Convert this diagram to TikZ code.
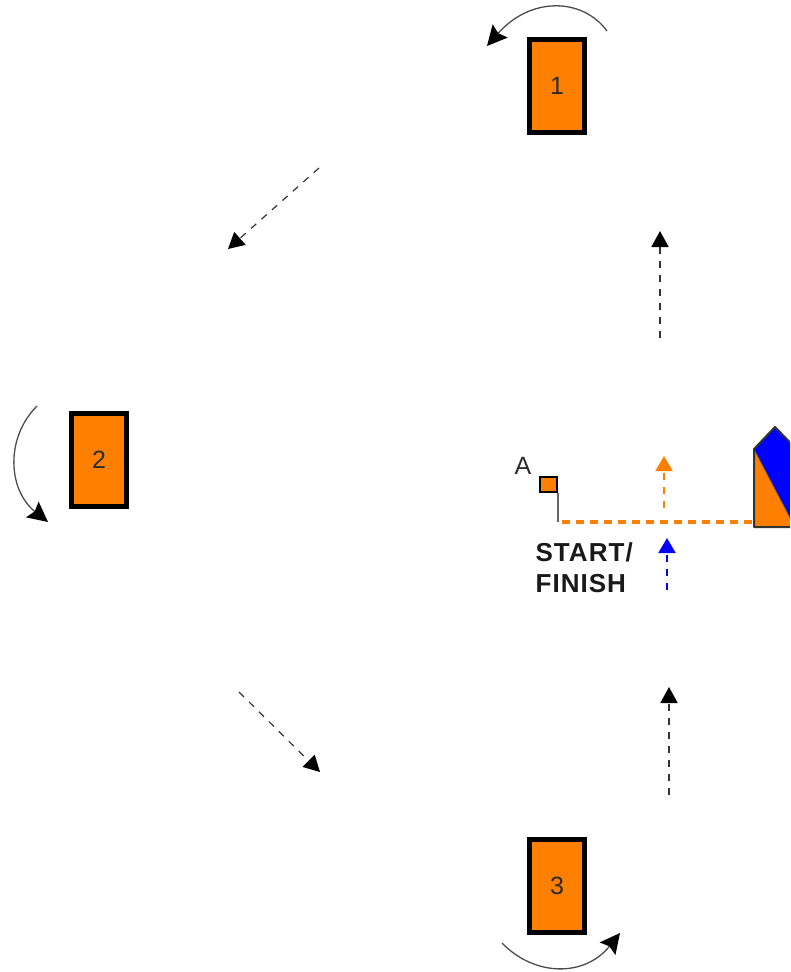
\documentclass[tikz,border=0pt]{standalone}
\usepackage{fontspec}
\setmainfont{Liberation Sans}
\newfontfamily\startfont[LetterSpace=4]{Liberation Sans}
\usetikzlibrary{arrows.meta, positioning, calc}
\definecolor{corange}{HTML}{FF8000}
\definecolor{cblue}{HTML}{0000FF}
\definecolor{ctext}{HTML}{2B2B2B}
\tikzset{
  every picture/.style={x=1pt, y=-1pt, line width=1.2pt},
  buoy/.style={draw=black, fill=corange, line width=5pt, minimum width=55pt, minimum height=93pt, inner sep=0pt, text=ctext, font=\fontsize{25}{25}\selectfont},
  turn/.style={-{Stealth[length=20pt, width=20pt, inset=3pt, color=black]}, draw=black!70, line width=1.3pt},
  leg/.style={-{Triangle[length=16pt, width=17pt, color=black]}, draw=black!80, line width=#1, dash pattern=on 7pt off 7pt},
  leg/.default=1.4pt,
  smallleg/.style={-{Triangle[length=15pt, width=17pt]}, draw=#1, line width=2pt, dash pattern=on 7pt off 7pt},
  title/.style={font=\startfont\bfseries\fontsize{26}{31}\selectfont, text=black!90, align=left, inner sep=0pt},
}
\begin{document}
\begin{tikzpicture}
  \useasboundingbox (0,0) rectangle (790,972);
  \foreach \i/\x/\y in {1/557/86, 2/99/460, 3/557/886} {
    \node[buoy] (b\i) at (\x,\y) {\i};
  }
  % turns round the buoys
  \coordinate (t1s) at (607,31);
  \coordinate (t1e) at (487,46);
  \coordinate (t2s) at (37,406);
  \coordinate (t2e) at (48,522);
  \coordinate (t3s) at (502,943);
  \coordinate (t3e) at (620,933);
  \draw[turn] (t1s) .. controls (582,-3) and (530,-3) .. (t1e);
  \draw[turn] (t2s) .. controls (5,438) and (8,490) .. (t2e);
  \draw[turn] (t3s) .. controls (535,977) and (585,977) .. (t3e);
  % legs of the course
  \foreach \n/\ax/\ay/\bx/\by/\w in {
      a/319/168/228/249/1.2pt,
      b/660/338/660/231/1.8pt,
      c/239/692/320/772/1.2pt,
      d/669/795/669/687/1.8pt} {
    \coordinate (\n0) at (\ax,\ay);
    \coordinate (\n1) at (\bx,\by);
    \draw[leg=\w] (\n0) -- (\n1);
  }
  % start line
  \coordinate (pin) at (558,522);
  \coordinate (boat) at (754,522);
  \node[draw=black, fill=corange, line width=1.6pt, minimum width=17pt, minimum height=15pt, inner sep=0pt, anchor=north east] (flag) at (558,476) {};
  \draw[draw=black!60, line width=1.4pt] (flag.south east) -- (pin);
  \node[font=\fontsize{25}{25}\selectfont, text=ctext, inner sep=0pt] (lblA) at (523,466) {A};
  \draw[corange, line width=4pt, dash pattern=on 8pt off 6pt] ($(pin)+(4,0)$) -- (boat);
  \coordinate (o0) at (664,508);
  \coordinate (o1) at (664,456);
  \coordinate (u0) at (667,590);
  \coordinate (u1) at (667,538);
  \draw[smallleg=corange] (o0) -- (o1);
  \draw[smallleg=cblue] (u0) -- (u1);
  \node[title, anchor=north west] (start) at (535,542) {START/\\FINISH};
  % committee boat
  \begin{scope}
    \clip (700,400) rectangle (790,560);
    \fill[cblue] (754,449) -- (775,427) -- (815,468) -- (815,527) -- (795,527) -- cycle;
    \fill[corange] (754,449) -- (754,527) -- (795,527) -- cycle;
    \draw[black!70, line width=0.8pt] (754,449) -- (795,527);
    \draw[black!80, line width=2pt, line join=round] (800,527) -- (754,527) -- (754,449) -- (775,427) -- (815,468);
  \end{scope}
\end{tikzpicture}
\end{document}
